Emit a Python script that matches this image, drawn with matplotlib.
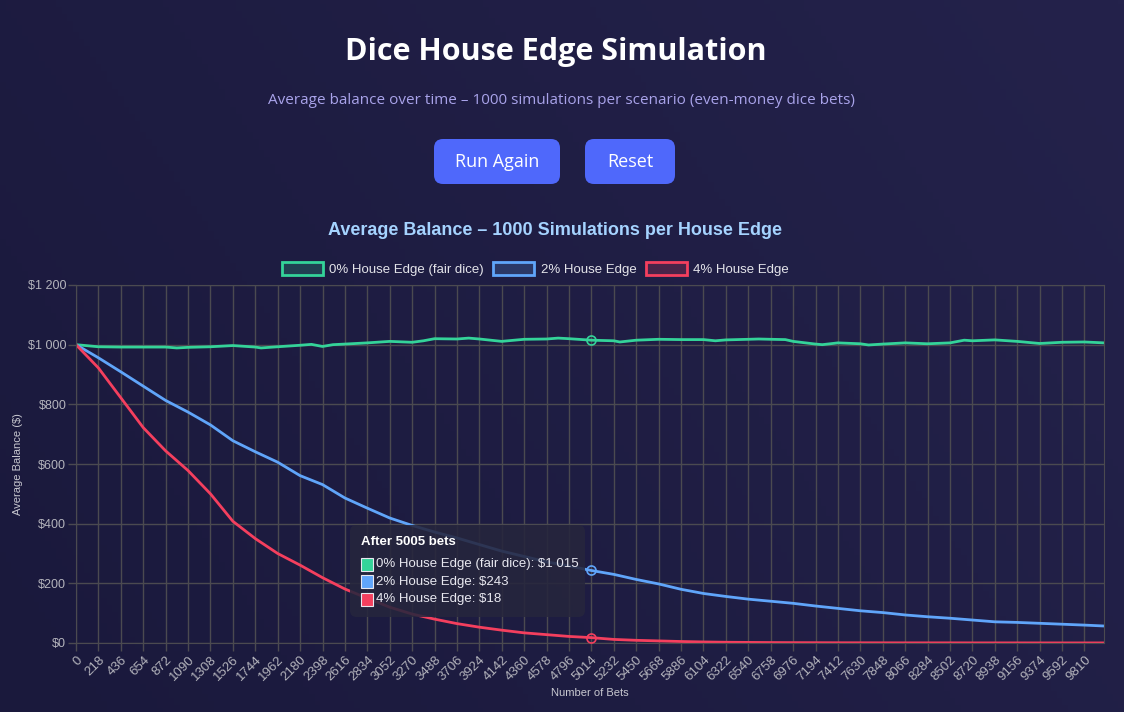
import numpy as np
import matplotlib
matplotlib.use("Agg")
import matplotlib.pyplot as plt
from matplotlib.patches import FancyBboxPatch, Patch, Rectangle
from matplotlib.ticker import FuncFormatter

bets_fair = [0, 218, 436, 654, 872, 980, 1090, 1308, 1526, 1744, 1800, 1962, 2180, 2290,
             2398, 2500, 2616, 2834, 3052, 3270, 3380, 3488, 3706, 3820, 3924, 4142, 4170,
             4360, 4578, 4690, 4796, 5014, 5232, 5290, 5450, 5668, 5886, 6104, 6220, 6322,
             6540, 6640, 6758, 6900, 6976, 7194, 7260, 7412, 7630, 7710, 7848, 8066, 8284,
             8502, 8640, 8720, 8938, 9156, 9374, 9592, 9810, 10000]
bal_fair = [1000, 993, 992, 992, 992, 989, 991, 993, 997, 992, 989, 993, 998, 1001,
            994, 1000, 1002, 1006, 1011, 1008, 1013, 1020, 1019, 1022, 1019, 1011, 1012,
            1018, 1019, 1022, 1020, 1015, 1013, 1009, 1015, 1018, 1017, 1017, 1013, 1016,
            1018, 1019, 1018, 1017, 1011, 1002, 1000, 1006, 1003, 999, 1002, 1006, 1003,
            1006, 1015, 1013, 1016, 1011, 1004, 1008, 1009, 1006]

bets = [0, 218, 436, 654, 872, 1090, 1308, 1526, 1744, 1962, 2180, 2398, 2616, 2834,
        3052, 3270, 3488, 3706, 3924, 4142, 4360, 4578, 4796, 5014, 5232, 5450, 5668,
        5886, 6104, 6322, 6540, 6758, 6976, 7194, 7412, 7630, 7848, 8066, 8284, 8502,
        8720, 8938, 9156, 9374, 9592, 9810, 10000]
bal_2pct = [1000, 956, 909, 861, 813, 774, 731, 678, 641, 606, 561, 531, 486, 452,
            419, 394, 372, 352, 330, 308, 290, 272, 258, 243, 230, 213, 198,
            180, 166, 156, 147, 140, 133, 124, 116, 108, 102, 94, 88, 83,
            77, 71, 69, 66, 63, 60, 57]
bal_4pct = [1000, 922, 822, 722, 644, 578, 500, 408, 350, 300, 261, 219, 181, 150,
            120, 97, 80, 65, 53, 43, 34, 28, 22, 18, 12, 9, 7,
            5, 3.5, 2.5, 2, 1.5, 1.2, 1, 0.8, 0.7, 0.6, 0.5, 0.5, 0.5,
            0.4, 0.4, 0.4, 0.3, 0.3, 0.3, 0.3]

names = ["0% House Edge (fair dice)", "2% House Edge", "4% House Edge"]
colors = ["#34d399", "#60a5fa", "#f43f5e"]
hover_bet = 5005
hover_vals = ["$1 015", "$243", "$18"]

W, H = 1124, 712
fig = plt.figure(figsize=(W / 100, H / 100), dpi=100)


def fx(px):
    return px / W


def fy(py):
    return 1 - py / H


# background gradient
bg = fig.add_axes([0, 0, 1, 1], zorder=-10)
gx, gy = np.meshgrid(np.linspace(0, 1, 200), np.linspace(0, 1, 200))
t = (gx * 0.7 + (1 - gy) * 0.3)
c0 = np.array([0x1a, 0x19, 0x3c]) / 255
c1 = np.array([0x24, 0x22, 0x4b]) / 255
img = c0[None, None, :] * (1 - t[..., None]) + c1[None, None, :] * t[..., None]
bg.imshow(img, aspect="auto", extent=[0, 1, 0, 1], origin="upper")
bg.axis("off")

fig.text(fx(556), fy(52), "Dice House Edge Simulation", ha="center", va="center",
         color="white", fontsize=22, fontweight="bold", family="Open Sans")
fig.text(fx(561), fy(100), "Average balance over time \u2013 1000 simulations per scenario (even-money dice bets)",
         ha="center", va="center", color="#a9a3ea", fontsize=11, family="Open Sans")

# buttons
for x0, x1, label in [(434, 560, "Run Again"), (585, 675, "Reset")]:
    fig.patches.append(FancyBboxPatch((fx(x0), fy(184)), fx(x1 - x0), (184 - 139) / H,
                                      boxstyle="round,pad=0,rounding_size=0.008",
                                      transform=fig.transFigure, facecolor="#4f68fb",
                                      edgecolor="none", mutation_aspect=W / H))
    fig.text(fx((x0 + x1) / 2), fy(162), label, ha="center", va="center",
             color="white", fontsize=13, family="Open Sans")

fig.text(fx(555), fy(230), "Average Balance \u2013 1000 Simulations per House Edge",
         ha="center", va="center", color="#a5d3ff", fontsize=13, fontweight="bold",
         family="Liberation Sans")

ax = fig.add_axes([fx(76), fy(643), fx(1104 - 76), (643 - 285) / H])
ax.set_facecolor("none")

ax.plot(bets_fair, bal_fair, color=colors[0], lw=2)
ax.plot(bets, bal_2pct, color=colors[1], lw=2)
ax.plot(bets, bal_4pct, color=colors[2], lw=2)

# hover markers at 5005
h_fair = np.interp(hover_bet, bets_fair, bal_fair)
h_2 = np.interp(hover_bet, bets, bal_2pct)
h_4 = np.interp(hover_bet, bets, bal_4pct)
for v, c in zip([h_fair, h_2, h_4], colors):
    ax.plot([hover_bet], [v], marker="o", ms=6.5, mfc=(1, 1, 1, 0.0), mec=c, mew=1.2, zorder=5)

ax.set_xlim(0, 10000)
ax.set_ylim(0, 1200)
ax.set_xticks(np.arange(0, 10000, 218))
ax.set_yticks(np.arange(0, 1201, 200))
ax.yaxis.set_major_formatter(FuncFormatter(lambda v, p: "$" + f"{int(v):,}".replace(",", " ")))

grid_c = "#4b4a50"
ax.grid(True, color=grid_c, lw=1)
for s in ax.spines.values():
    s.set_color(grid_c)
ax.tick_params(colors=grid_c, labelcolor="#b4b4bc", length=6, width=1)
ax.tick_params(axis="y", labelsize=9, pad=1)
ax.tick_params(axis="x", labelsize=9.5, pad=2)
for lbl in ax.get_xticklabels():
    lbl.set_rotation(45)
    lbl.set_ha("right")
    lbl.set_rotation_mode("anchor")
    lbl.set_family("Liberation Sans")
for lbl in ax.get_yticklabels():
    lbl.set_family("Liberation Sans")

ax.set_xlabel("Number of Bets", color="#c8c8d0", fontsize=8, family="Liberation Sans", labelpad=3)
ax.set_ylabel("Average Balance ($)", color="#c8c8d0", fontsize=8, family="Liberation Sans")
ax.yaxis.set_label_coords(-0.052, 0.5)

handles = [Patch(facecolor=matplotlib.colors.to_rgba(c, 0.2), edgecolor=c, lw=2) for c in colors]
leg = ax.legend(handles, names, loc="lower center", bbox_to_anchor=(0.447, 1.0), ncol=3,
                frameon=False, handlelength=3.1, handleheight=1.15, borderaxespad=0.3,
                columnspacing=0.7, handletextpad=0.5, prop={"family": "Liberation Sans", "size": 9.5})
for t_ in leg.get_texts():
    t_.set_color("#e4e4ea")

# tooltip
fig.patches.append(FancyBboxPatch((fx(350), fy(617)), fx(235), (617 - 525) / H,
                                  boxstyle="round,pad=0,rounding_size=0.006",
                                  transform=fig.transFigure, facecolor=(0.15, 0.15, 0.24, 0.88),
                                  edgecolor="none", mutation_aspect=W / H, zorder=20))
fig.text(fx(361), fy(542), f"After {hover_bet} bets", ha="left", va="center",
         color="white", fontsize=9.5, fontweight="bold", family="Liberation Sans", zorder=21)
for i, (n, v, c) in enumerate(zip(names, hover_vals, colors)):
    yc = 564 + i * 17.5
    fig.patches.append(Rectangle((fx(361), fy(yc + 6.5)), fx(12), 13 / H, transform=fig.transFigure,
                                 facecolor=c, edgecolor="#e8e8f0", lw=0.8, zorder=21))
    fig.text(fx(376), fy(yc), f"{n}: {v}", ha="left", va="center", color="#e8e8f0",
             fontsize=9.5, family="Liberation Sans", zorder=21)

fig.savefig("out.png", dpi=100)
